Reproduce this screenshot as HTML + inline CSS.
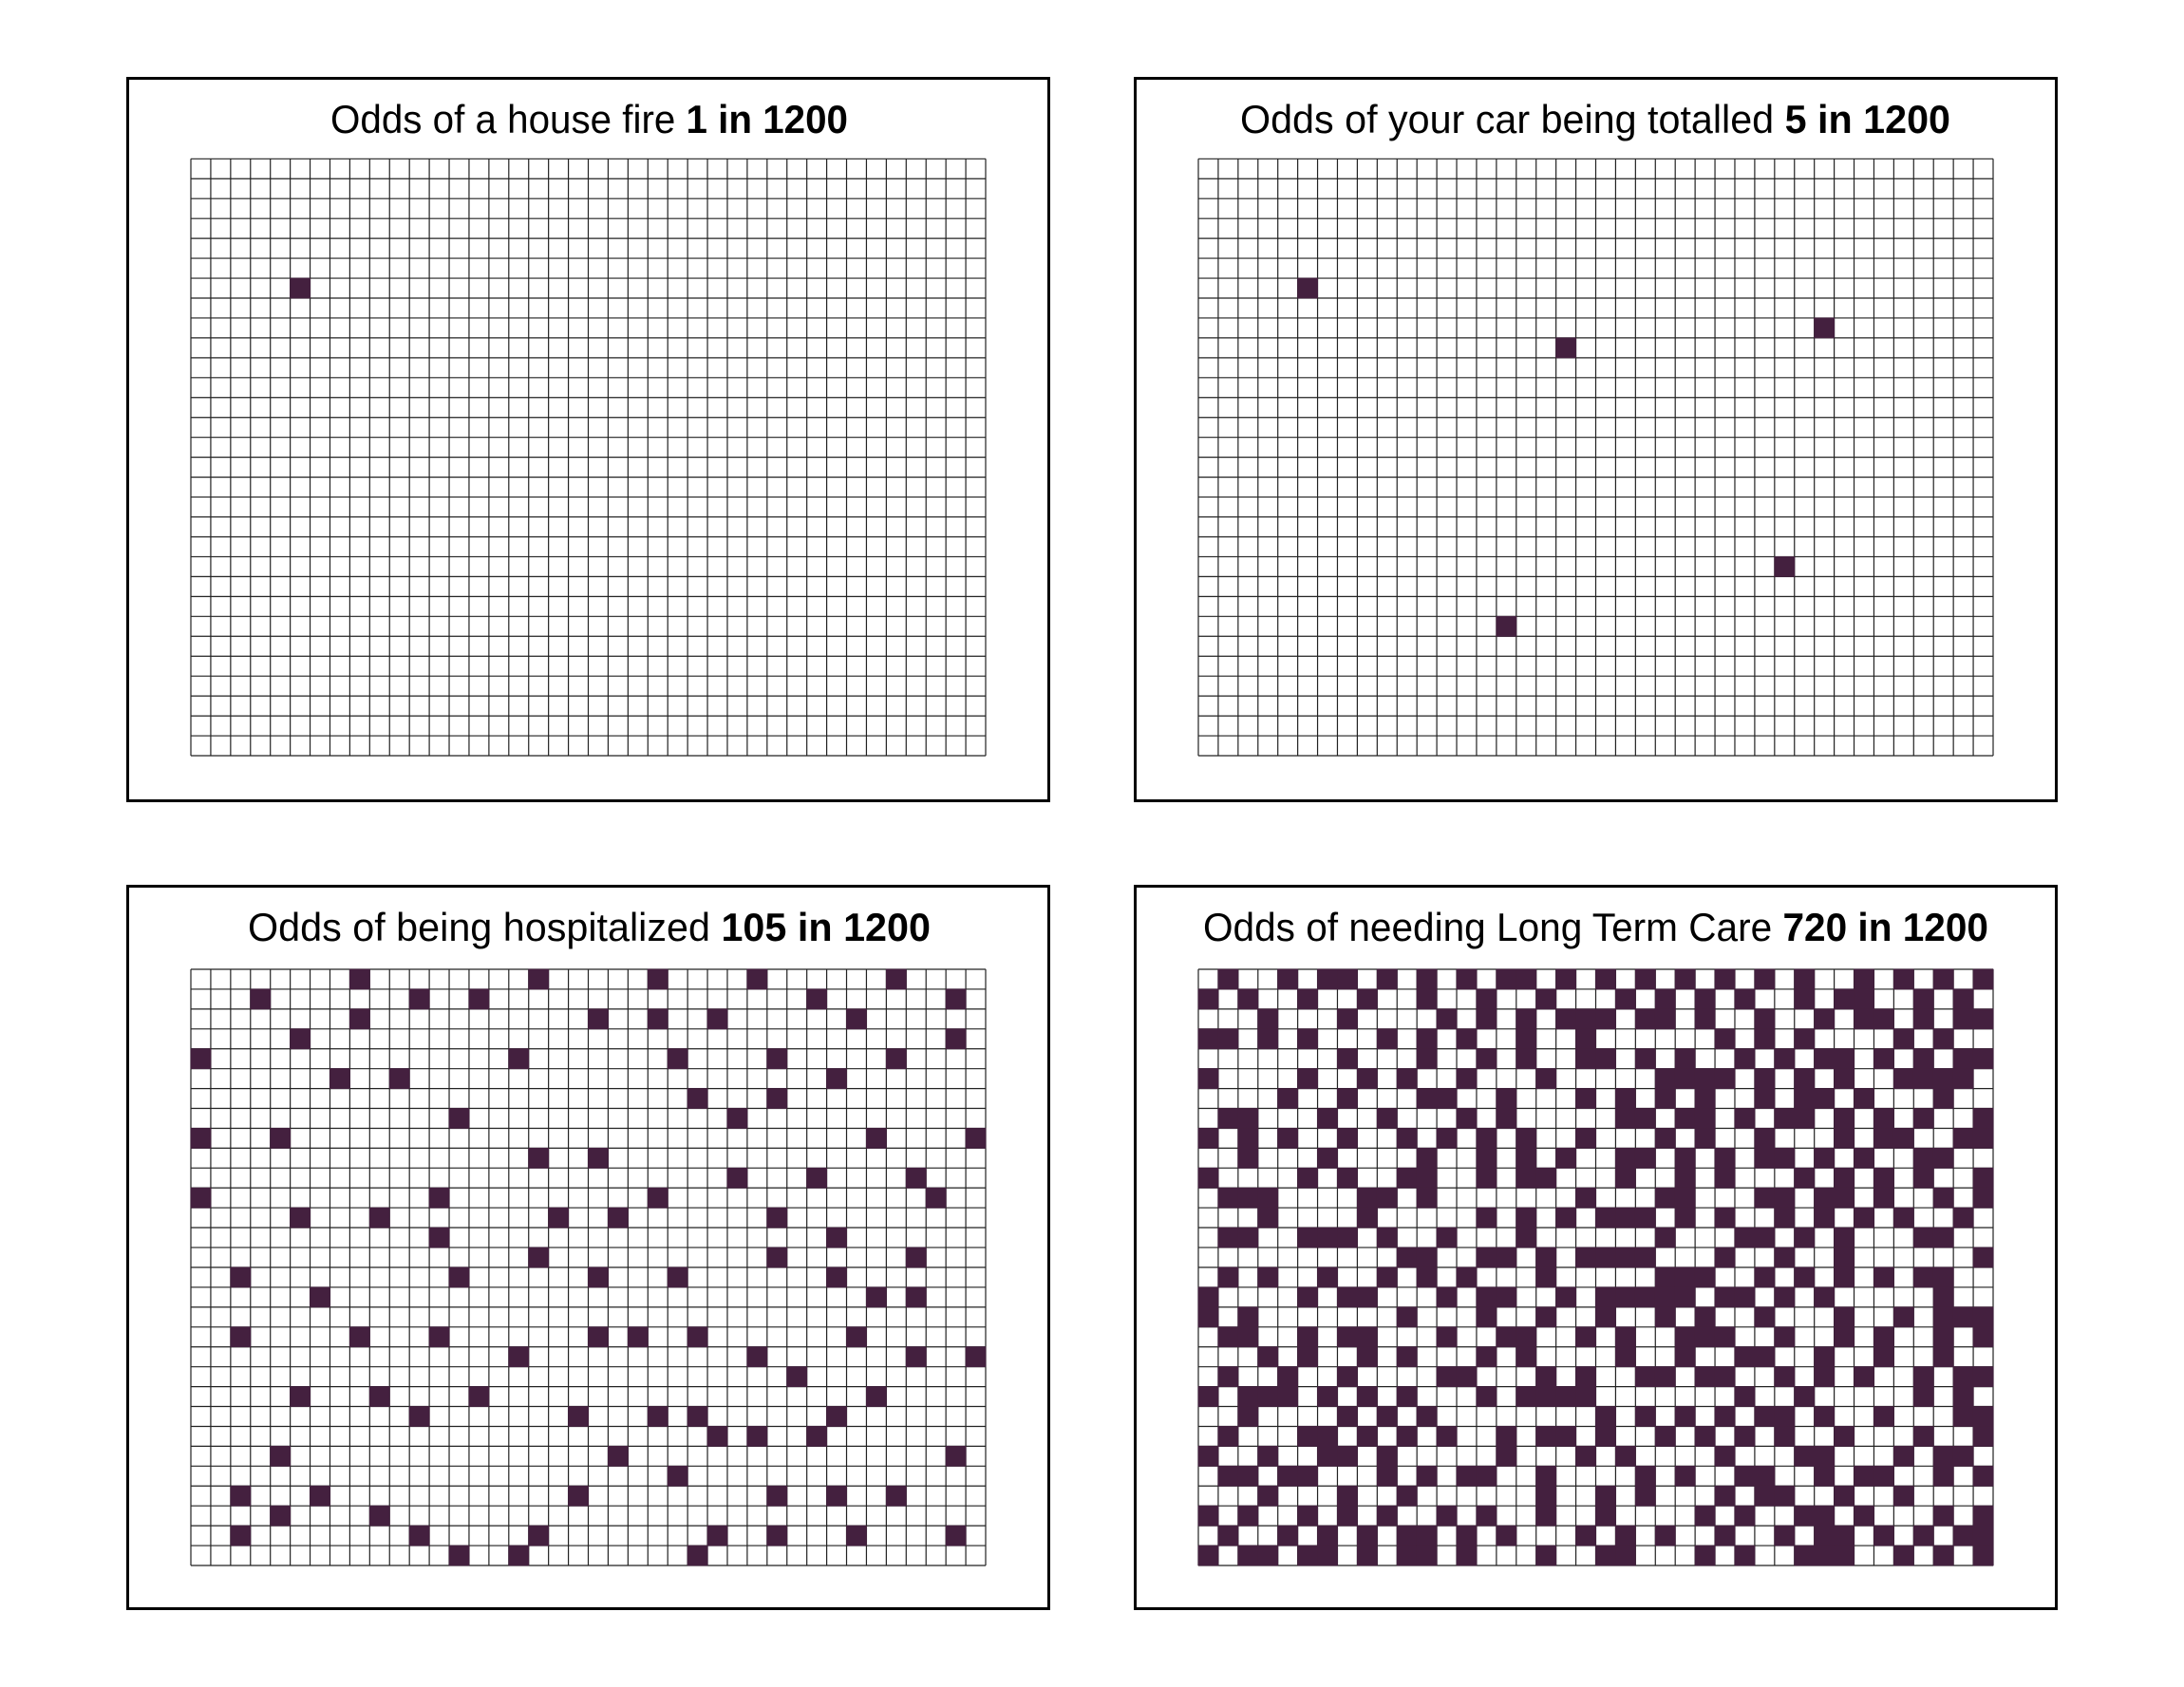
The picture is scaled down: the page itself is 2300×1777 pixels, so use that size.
<!DOCTYPE html>
<html>
<head>
<meta charset="utf-8">
<style>
  html,body{margin:0;padding:0;background:#fff;}
  svg{display:block;}
  text{font-family:"Liberation Sans", Arial, sans-serif; fill:#000;}
</style>
</head>
<body>
<svg id="chart" width="2300" height="1777" viewBox="0 0 2300 1777" xmlns="http://www.w3.org/2000/svg">
  <rect x="0" y="0" width="2300" height="1777" fill="#fff"/>
  <!-- panel boxes -->
  <rect x="134.5" y="82.5" width="970" height="761" fill="none" stroke="#000" stroke-width="3"/>
  <rect x="1195.5" y="82.5" width="970" height="761" fill="none" stroke="#000" stroke-width="3"/>
  <rect x="134.5" y="933.5" width="970" height="761" fill="none" stroke="#000" stroke-width="3"/>
  <rect x="1195.5" y="933.5" width="970" height="761" fill="none" stroke="#000" stroke-width="3"/>
  <!-- titles -->
  <text x="348" y="140" font-size="42" textLength="545" lengthAdjust="spacingAndGlyphs">Odds of a house fire <tspan font-weight="bold">1 in 1200</tspan></text>
  <text x="1306" y="140" font-size="42" textLength="748" lengthAdjust="spacingAndGlyphs">Odds of your car being totalled <tspan font-weight="bold">5 in 1200</tspan></text>
  <text x="261" y="991" font-size="42" textLength="719" lengthAdjust="spacingAndGlyphs">Odds of being hospitalized <tspan font-weight="bold">105 in 1200</tspan></text>
  <text x="1267" y="991" font-size="42" textLength="827" lengthAdjust="spacingAndGlyphs">Odds of needing Long Term Care <tspan font-weight="bold">720 in 1200</tspan></text>
  <g id="grids"></g>
</svg>
<script>
(function(){
  var DARK = "#44203f";
  function emptyGrid(){ var g=[]; for(var r=0;r<30;r++){ var row=[]; for(var c=0;c<40;c++) row.push(0); g.push(row);} return g; }
  function fromPairs(list){ var g=emptyGrid(); list.forEach(function(p){ g[p[0]][p[1]]=1; }); return g; }
  function fromRows(rows){ var g=emptyGrid(); for(var r=0;r<30;r++){ for(var c=0;c<40;c++){ g[r][c] = rows[r].charAt(c)==='1'?1:0; } } return g; }

  var g1 = fromPairs([[6,5]]);
  var g2 = fromPairs([[6,5],[9,18],[8,31],[20,29],[23,15]]);
  var p3 = {
    0:[8,17,23,28,35],1:[3,11,14,31,38],2:[8,20,23,26,33],3:[5,38],4:[0,16,24,29,35],
    5:[7,10,32],6:[25,29],7:[13,27],8:[0,4,34,39],9:[17,20],10:[27,31,36],11:[0,12,23,37],
    12:[5,9,18,21,29],13:[12,32],14:[17,29,36],15:[2,13,20,24,32],16:[6,34,36],17:[],
    18:[2,8,12,20,22,25,33],19:[16,28,36,39],20:[30],21:[5,9,14,34],22:[11,19,23,25,32],
    23:[26,28,31],24:[4,21,38],25:[24],26:[2,6,19,29,32,35],27:[4,9],28:[2,11,17,26,29,33,38],
    29:[13,16,25]
  };
  var pairs3=[]; for(var k in p3){ p3[k].forEach(function(c){ pairs3.push([+k,c]); }); }
  var g3 = fromPairs(pairs3);
  var rows4 = [
    "01001011010101011010"+"10101010101001010101",
    "10100100100100100100"+"01010101001011001010",
    "00010001000010101011"+"10110100100101101011",
    "11010100010101001001"+"00000010101000010100",
    "00000001000100101001"+"10101001010110101011",
    "10000100101001000100"+"00011110101010011110",
    "00001001000110010001"+"01010100101101000100",
    "01100010010001010000"+"01101101011010101001",
    "10101001001010101001"+"00010100100010110011",
    "00100010000100101010"+"01101010110101001100",
    "10000101001100101100"+"01001010001010101001",
    "01110000110100000001"+"00011000110110100101",
    "00010000100000101010"+"11101010010101010010",
    "01100111010010001000"+"00010001101010001100",
    "00000000001100110101"+"11100010010010000001",
    "01010010010101000100"+"00011100101010101100",
    "10000101100010110010"+"11111011010100000100",
    "10100000001000100100"+"10010100100010010111",
    "01100101100010011001"+"01001110010010100101",
    "00010100101000101000"+"01001001100100100100",
    "01001001000011000101"+"00110110010101001011",
    "10111010101000101111"+"00000001001000001010",
    "00100001010100000000"+"10101010110100100011",
    "01000110101010010110"+"10010101010010001001",
    "10010011010000010001"+"01000010001100010110",
    "01101100010101100100"+"00101001100101100101",
    "00010001001000000100"+"10100010110010010000",
    "10100101010010100100"+"10000101001101000101",
    "01001010101101010001"+"01010010010110101011",
    "10110110101101000100"+"11000101001110010101"
  ];
  var g4 = fromRows(rows4);

  function draw(x0,y0,x1,y1,g){
    var cw=(x1-x0)/40, ch=(y1-y0)/30, s='';
    s += '<rect x="'+x0+'" y="'+y0+'" width="'+(x1-x0)+'" height="'+(y1-y0)+'" fill="#fff"/>';
    var d='';
    for(var i=0;i<=40;i++){ var x=(x0+i*cw).toFixed(2); d+='M'+x+' '+y0+'V'+y1; }
    for(var j=0;j<=30;j++){ var y=(y0+j*ch).toFixed(2); d+='M'+x0+' '+y+'H'+x1; }
    s += '<path d="'+d+'" stroke="#222" stroke-width="1.2" fill="none"/>';
    for(var r=0;r<30;r++){ for(var c=0;c<40;c++){ if(g[r][c]){
      s += '<rect x="'+(x0+c*cw-0.4).toFixed(2)+'" y="'+(y0+r*ch-0.4).toFixed(2)+'" width="'+(cw+0.8).toFixed(2)+'" height="'+(ch+0.8).toFixed(2)+'" fill="'+DARK+'"/>';
    }}}
    return s;
  }
  var out='';
  out += draw(201,167.3,1038,796,g1);
  out += draw(1262,167.3,2099,796,g2);
  out += draw(201,1021,1038,1649,g3);
  out += draw(1262,1021,2099,1649,g4);
  document.getElementById('grids').innerHTML = out;
})();
</script>
</body>
</html>
